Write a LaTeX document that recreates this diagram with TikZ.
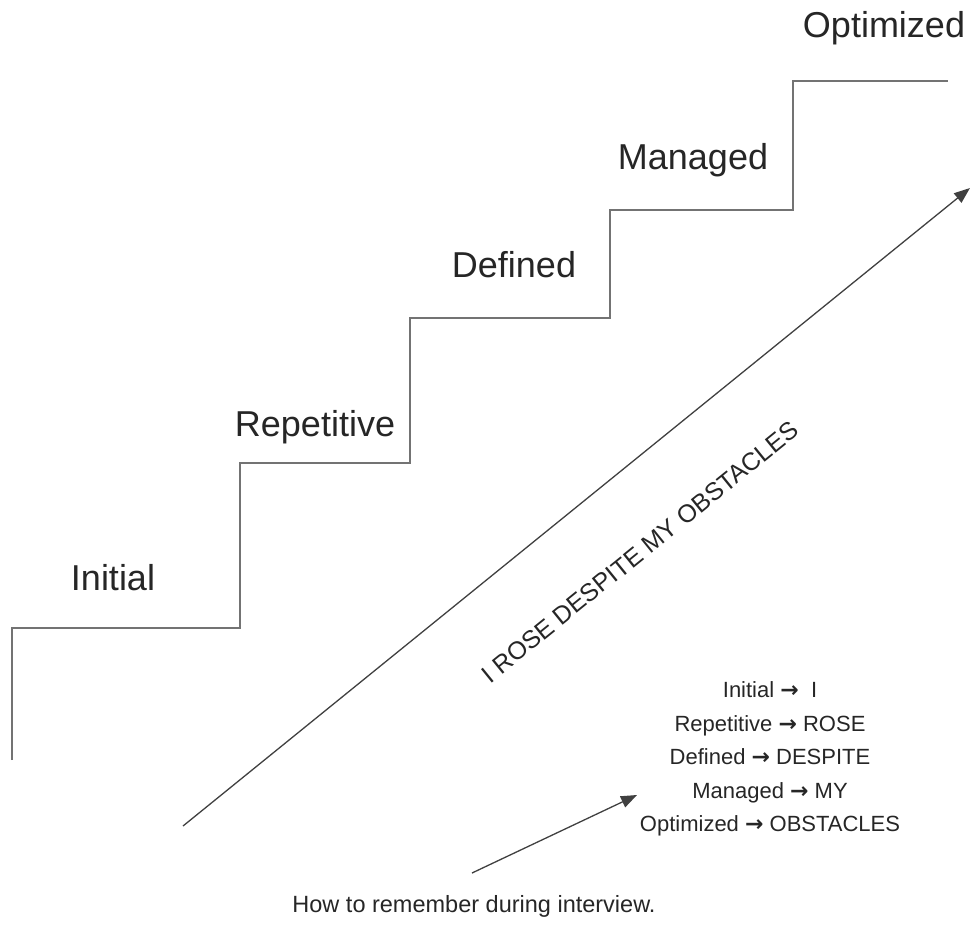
\documentclass[tikz,border=0pt]{standalone}
\usepackage{fontspec}
\setmainfont{Liberation Sans}
\newfontfamily\arrowfont{DejaVu Sans}
\newcommand{\tto}{{\arrowfont\bfseries →}}
\usetikzlibrary{arrows.meta}
\begin{document}
\begin{tikzpicture}[x=1pt, y=-1pt,
  stair/.style={draw=black!55, line width=2.2pt},
  rise/.style={draw=black!75, line width=1.3pt, -{Triangle[length=16pt, width=12pt]}},
  steplab/.style={text=black!85, font=\fontsize{36}{40}\selectfont},
  memo/.style={text=black!85, font=\fontsize{22}{33.5}\selectfont, align=center}]
\useasboundingbox (0,0) rectangle (971,924);
% the stairs
\draw[stair] (12,760) -- (12,628) -- (240,628) -- (240,463) -- (410,463) -- (410,318)
  -- (610,318) -- (610,210) -- (793,210) -- (793,81) -- (948,81);
\foreach \name/\x/\y in {Initial/113/578, Repetitive/315/427, Defined/514/265,
  Managed/693/160, Optimized/884/28} {
  \node[steplab] (lab\name) at (\x,\y) {\name};
}
% the big arrow
\coordinate (riseA) at (183,826);
\coordinate (riseB) at (970,188);
\draw[rise] (riseA) -- (riseB);
\node[text=black!85, font=\fontsize{25}{30}\selectfont, rotate=39] (motto) at (640,552)
  {I ROSE DESPITE MY OBSTACLES};
% how to remember it
\node[memo] (memo) at (770,759) {Initial \tto\ \ I\\ Repetitive \tto\ ROSE\\ Defined \tto\ DESPITE\\
  Managed \tto\ MY\\ Optimized \tto\ OBSTACLES};
\node[text=black!85, font=\fontsize{23.5}{27}\selectfont] (howto) at (474,906)
  {How to remember during interview.};
\coordinate (hintA) at (472,873);
\coordinate (hintB) at (637,795);
\draw[rise] (hintA) -- (hintB);
\end{tikzpicture}
\end{document}
